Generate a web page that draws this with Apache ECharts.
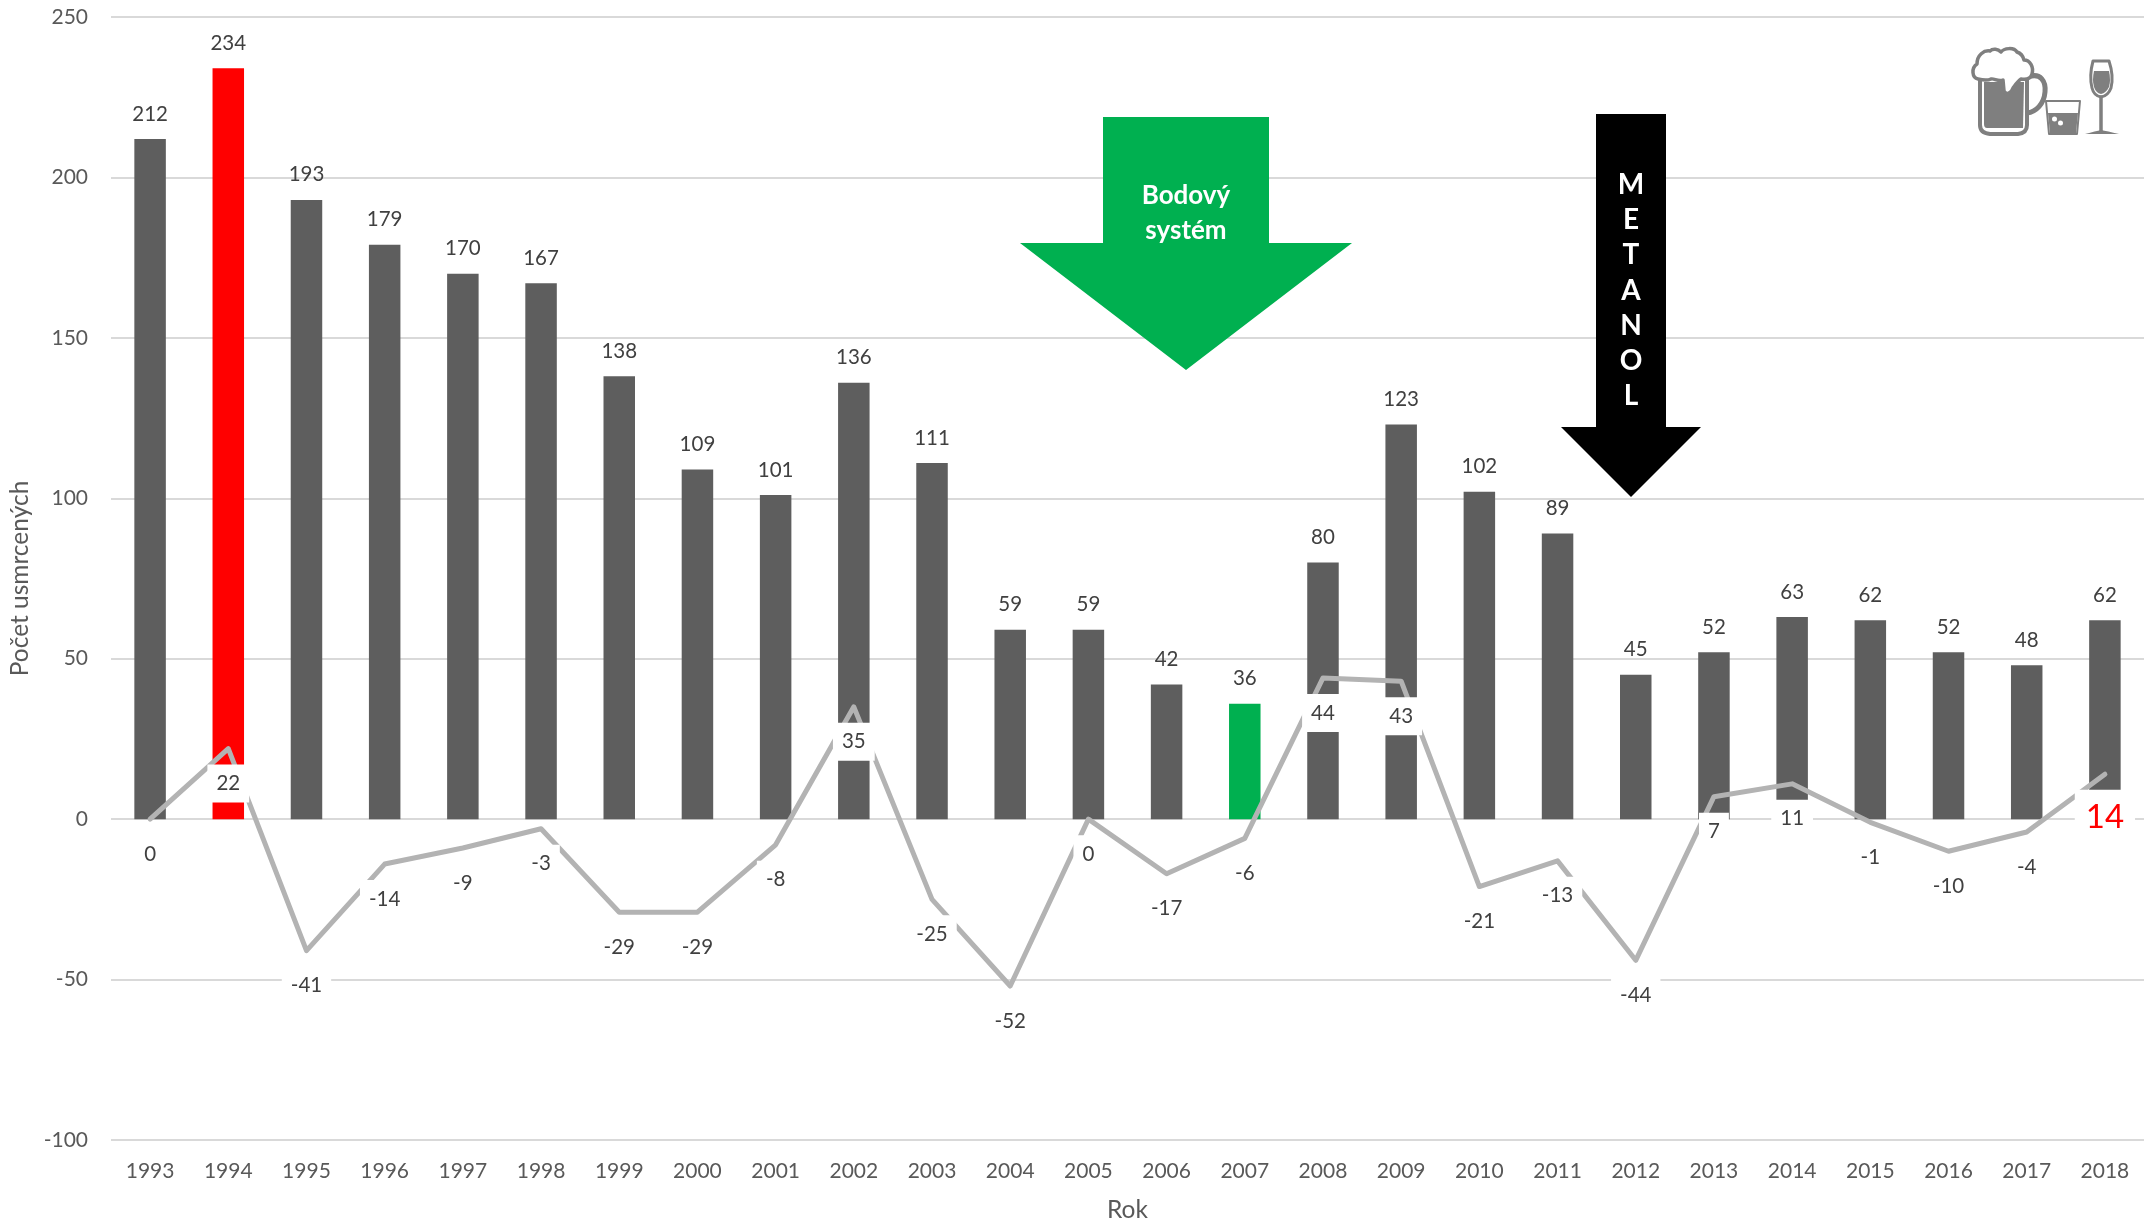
<!DOCTYPE html>
<html><head><meta charset="utf-8">
<script src="https://cdn.jsdelivr.net/npm/echarts@6/dist/echarts.min.js"></script>
<style>html,body{margin:0;padding:0;background:#fff}#c{width:2153px;height:1223px}</style>
</head><body><div id="c"></div>
<script>
const years = ['1993','1994','1995','1996','1997','1998','1999','2000','2001','2002','2003','2004','2005','2006','2007','2008','2009','2010','2011','2012','2013','2014','2015','2016','2017','2018'];
const deaths = [212,234,193,179,170,167,138,109,101,136,111,59,59,42,36,80,123,102,89,45,52,63,62,52,48,62];
const change = [0,22,-41,-14,-9,-3,-29,-29,-8,35,-25,-52,0,-17,-6,44,43,-21,-13,-44,7,11,-1,-10,-4,14];
const highlightBars = {'1994':'#FF0000','2007':'#00B050'};
const highlightLabelYear = '2018';
const FONT = 'Lato';
const GREY = '#7f7f7f';

const chart = echarts.init(document.getElementById('c'), null, {renderer:'canvas'});

const arrow = (pts, fill) => ({type:'polygon', z:50, shape:{points:pts}, style:{fill}});
const txt = (text, x, y, size) => ({type:'text', z:51, x, y, style:{text, fill:'#fff', font:`bold ${size}px ${FONT}`, align:'center', verticalAlign:'middle'}});
const ico = (pathData, fill, stroke, lineWidth) => ({type:'path', shape:{pathData}, style:{fill:fill||'none', stroke:stroke||'none', lineWidth:lineWidth||0, lineCap:'round', lineJoin:'round'}});

const graphic = [
  arrow([[1103,117],[1269,117],[1269,243],[1352,243],[1186,370],[1020,243],[1103,243]], '#00B050'),
  txt('Bodový',1186,196,26), txt('systém',1186,231,26),
  arrow([[1596,114],[1666,114],[1666,427],[1701,427],[1631,497],[1561,427],[1596,427]], '#000000'),
  ...['M','E','T','A','N','O','L'].map((c,i)=>txt(c,1631,185+i*35.2,28))
];

const iconParts = [
  ico('M2028,77 C2041,72 2046,82 2045,92 C2044,104 2036,112 2027,113', 'none', GREY, 5),
  ico('M1980,78 L1980,125 Q1980,133 1990,134 L2018,134 Q2027,133 2027,125 L2027,78 Z', '#fff', GREY, 4),
  ico('M1984,82 L2024,82 L2023,128 L1987,128 Q1984,128 1984,124 Z', GREY),
  ico('M1978,79 C1972,78 1971,68 1977,64 C1977,55 1984,50 1990,51 C1993,48 1998,49 2001,52 C2004,48 2014,47 2017,52 C2020,53 2023,56 2024,60 C2030,60 2034,67 2032,74 C2031,78 2027,80 2021,79 C2018,81 2016,84 2013,88 C2011,94 2006,95 2004,91 L2003,80 C1998,82 1994,78 1991,79 C1987,81 1982,80 1978,79 Z', '#fff', GREY, 3.5),
  ico('M2046,101 L2080,101 L2077,134 L2049,134 Z', '#fff', GREY, 2),
  ico('M2048,113 L2078,113 L2076,133 L2050,133 Z', GREY),
  ico('M2052,119 a2.5,2.5 0 1,0 5,0 a2.5,2.5 0 1,0 -5,0 M2058,123 a2.5,2.5 0 1,0 5,0 a2.5,2.5 0 1,0 -5,0', '#fff'),
  ico('M2093,61 L2109,61 Q2114,76 2111,88 Q2108,96 2101,97 Q2094,96 2092,88 Q2089,76 2093,61 Z', '#fff', GREY, 3),
  ico('M2094,71 L2109,71 Q2111,80 2109,87 Q2106,93 2101,94 Q2096,93 2094,87 Q2092,80 2094,71 Z', GREY),
  ico('M2101,97 L2101,132', 'none', GREY, 3.5),
  ico('M2085,134 Q2096,131 2101,130 Q2107,131 2119,134 Z', GREY)
];

chart.setOption({
  animation:false,
  backgroundColor:'#fff',
  textStyle:{fontFamily:FONT},
  grid:{left:111,right:9,top:17,bottom:83,containLabel:false,outerBoundsMode:'none'},
  xAxis:{
    type:'category', data:years, boundaryGap:true,
    name:'Rok', nameLocation:'middle', nameGap:58,
    nameTextStyle:{color:'#595959',fontSize:24.5,fontFamily:FONT},
    axisLine:{show:false,onZero:false}, axisTick:{show:false},
    axisLabel:{color:'#595959',fontSize:21,margin:21,interval:0,fontFamily:FONT},
    splitLine:{show:false}
  },
  yAxis:{
    type:'value', min:-100, max:250, interval:50,
    name:'Počet usmrcených', nameLocation:'middle', nameGap:76,
    nameTextStyle:{color:'#595959',fontSize:24.5,fontFamily:FONT},
    axisLine:{show:false}, axisTick:{show:false},
    axisLabel:{color:'#595959',fontSize:21,margin:23,fontFamily:FONT},
    splitLine:{show:true,lineStyle:{color:'#d9d9d9',width:2}}
  },
  series:[
    {
      type:'bar', barWidth:31.5, z:2,
      data:deaths.map((v,i)=>({value:v,itemStyle:{color:highlightBars[years[i]]||'#5e5e5e'}})),
      label:{show:true,position:'top',distance:14,color:'#404040',fontSize:20.5,fontFamily:FONT,lineHeight:22}
    },
    {
      type:'line', z:3, symbol:'circle', symbolSize:1, smooth:false,
      lineStyle:{color:'#b3b3b3',width:5,cap:'round',join:'round'},
      itemStyle:{color:'#b3b3b3'},
      data:change.map((v,i)=> years[i]===highlightLabelYear
        ? {value:v,label:{color:'#FF0000',fontSize:33,lineHeight:36,distance:15,padding:[10,11]}}
        : {value:v}),
      label:{show:true,position:'bottom',distance:15.5,color:'#404040',fontSize:20.5,fontFamily:FONT,lineHeight:22,backgroundColor:'#fff',padding:[8,9]}
    },
    {
      type:'custom', coordinateSystem:'none', data:[0], z:60, silent:true,
      renderItem:()=>({type:'group',children:iconParts})
    }
  ],
  graphic:{elements:graphic}
});
</script></body></html>
